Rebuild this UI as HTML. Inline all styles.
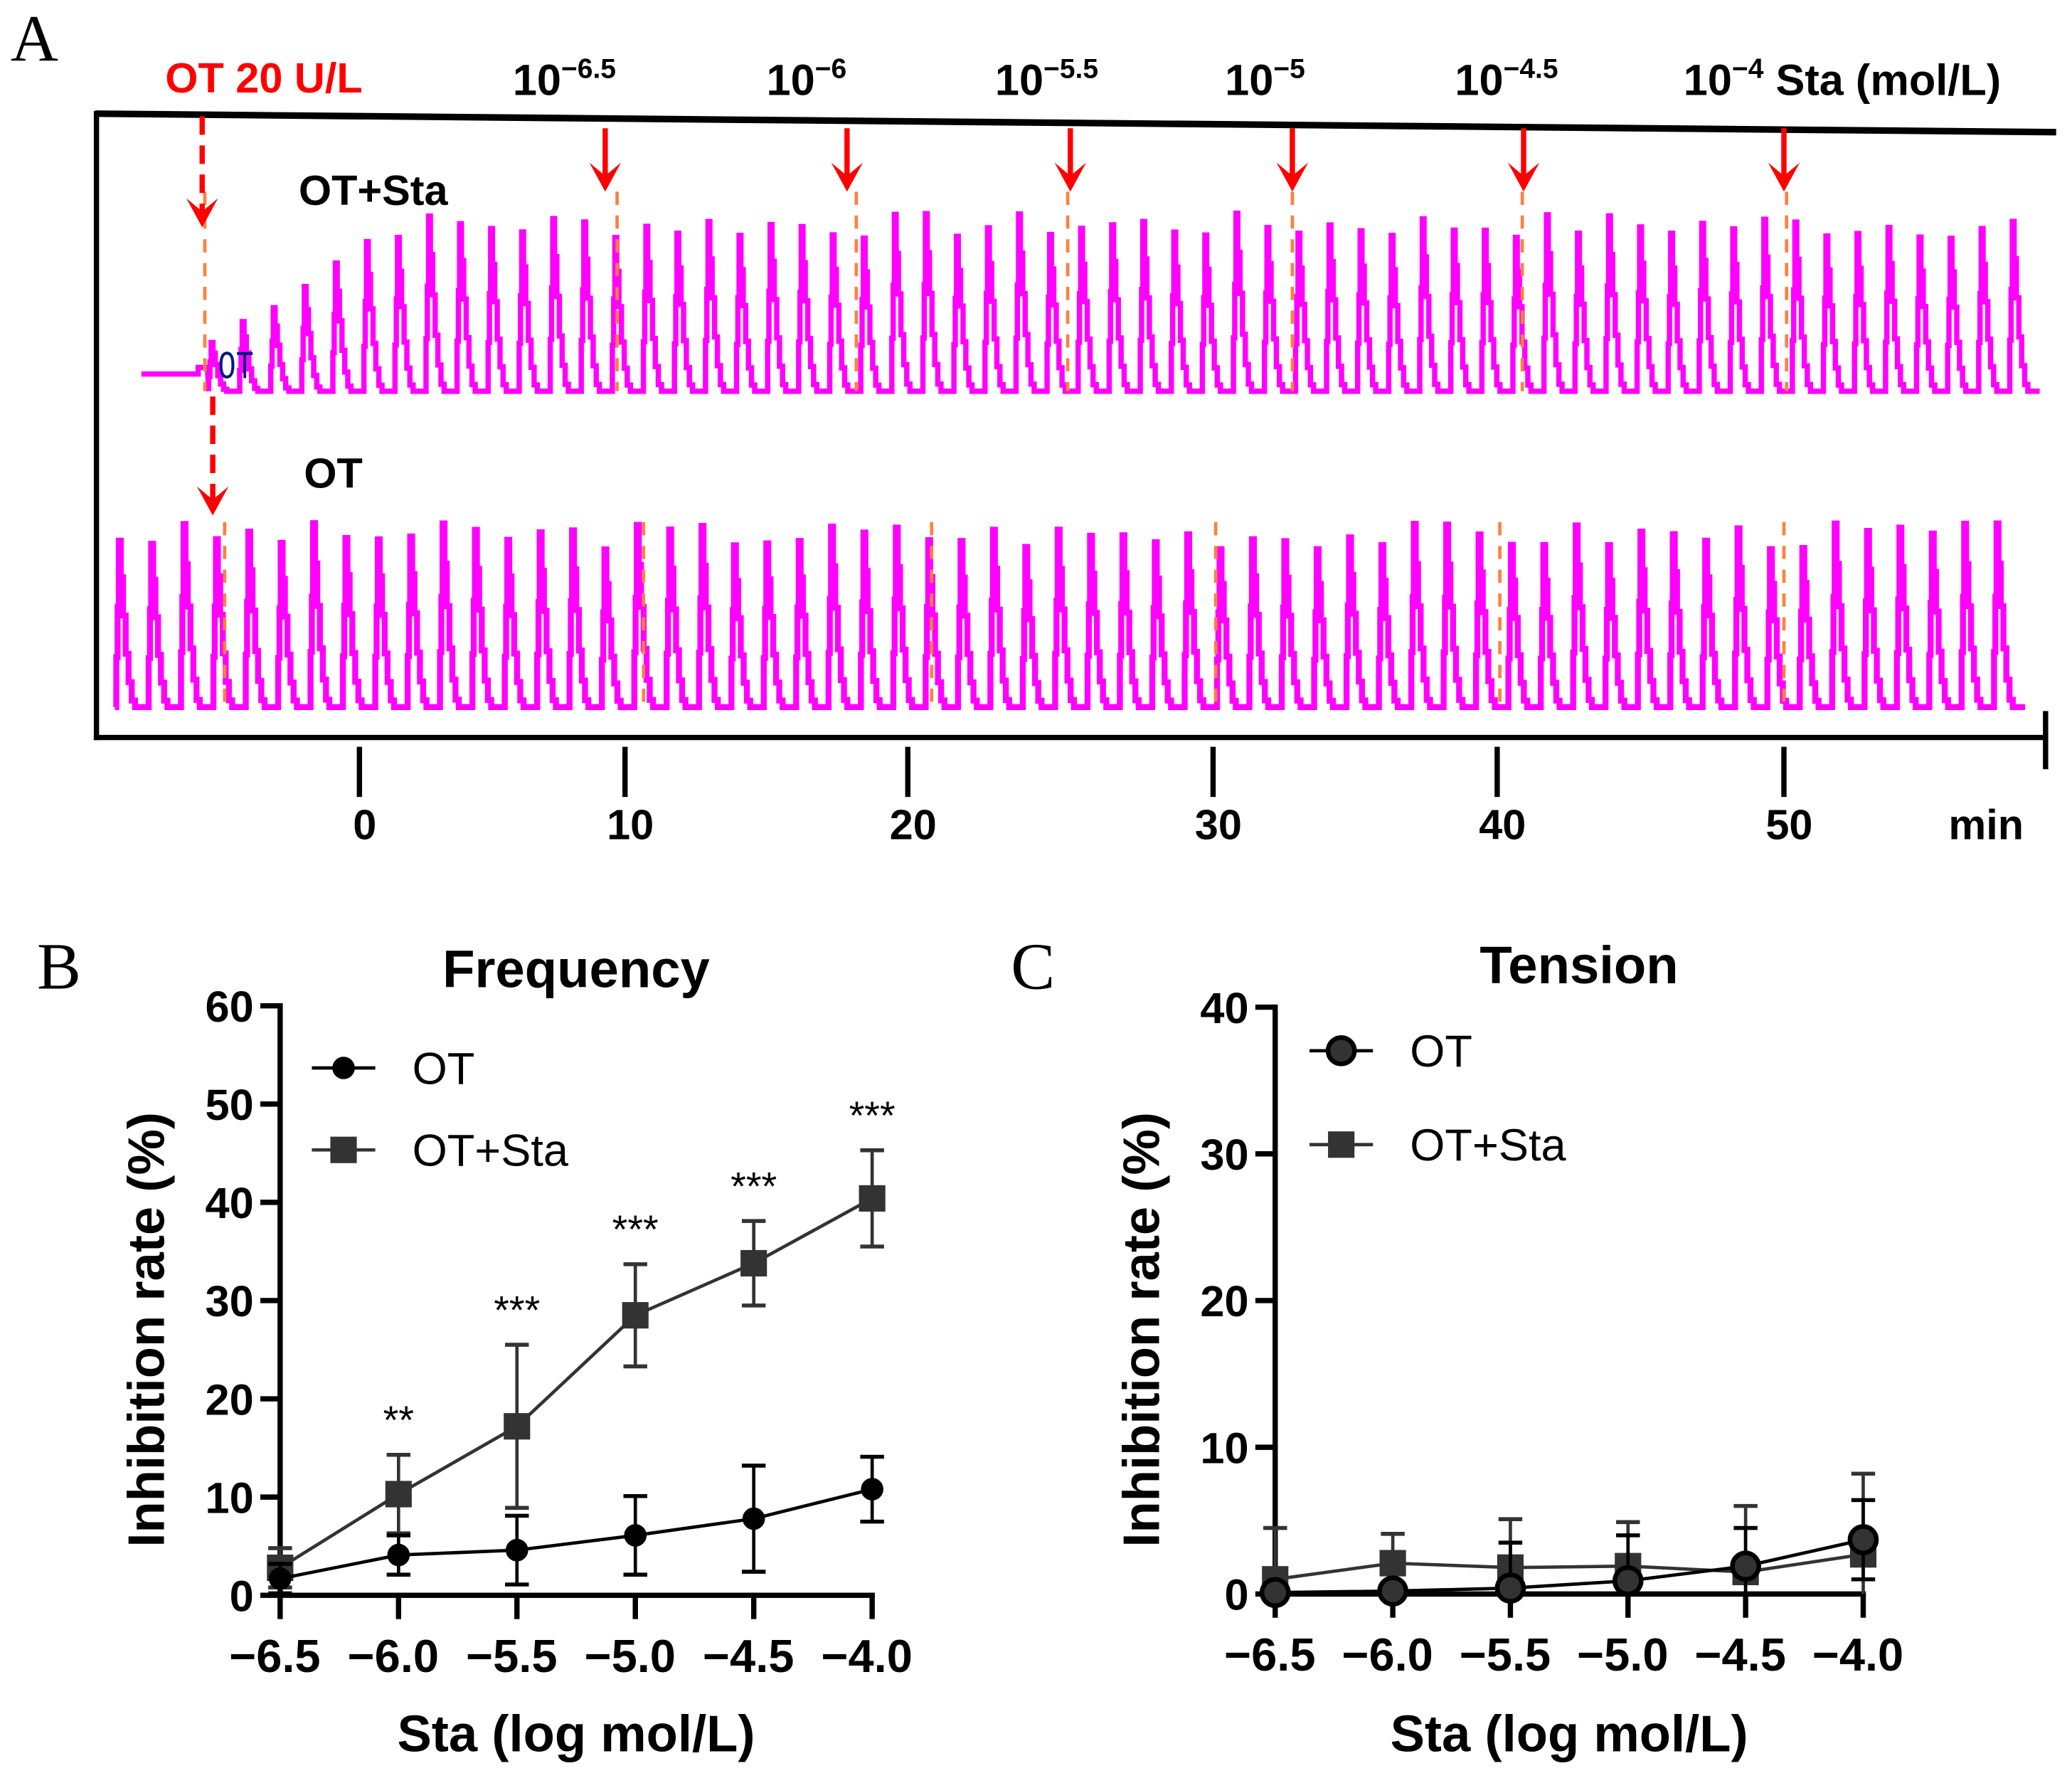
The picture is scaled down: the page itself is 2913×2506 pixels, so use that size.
<!DOCTYPE html>
<html><head><meta charset="utf-8">
<style>
html,body{margin:0;padding:0;background:#fff;}
svg{display:block;font-family:"Liberation Sans",Arial,sans-serif;}
.b{font-weight:bold;}
</style></head>
<body>
<svg id="fig" width="2913" height="2506" viewBox="0 0 1568 1349" preserveAspectRatio="none" xmlns="http://www.w3.org/2000/svg">
<g id="panelA">
  <text x="8" y="46" font-family="Liberation Serif,serif" font-size="50">A</text>
  <text x="125" y="70" class="b" font-size="32" fill="#f00">OT 20 U/L</text>
  <g class="b" font-size="33">
    <text x="388" y="72">10<tspan font-size="21" dy="-13">−6.5</tspan></text>
    <text x="580" y="72">10<tspan font-size="21" dy="-13">−6</tspan></text>
    <text x="753" y="72">10<tspan font-size="21" dy="-13">−5.5</tspan></text>
    <text x="927" y="72">10<tspan font-size="21" dy="-13">−5</tspan></text>
    <text x="1101" y="72">10<tspan font-size="21" dy="-13">−4.5</tspan></text>
    <text x="1274" y="72">10<tspan font-size="21" dy="-13">−4</tspan><tspan dy="13"> Sta (mol/L)</tspan></text>
  </g>
  <line x1="72" y1="86" x2="1556" y2="100" stroke="#000" stroke-width="5"/>
  <line x1="73" y1="84" x2="73" y2="560" stroke="#000" stroke-width="4"/>
  <line x1="71" y1="558" x2="1549" y2="558" stroke="#000" stroke-width="4"/>
  <line x1="1548" y1="538" x2="1548" y2="582" stroke="#000" stroke-width="4"/>
  <g id="timeTicks"></g>
  <g id="traces"></g>
  <g id="arrows"></g>
  <text x="226" y="155" class="b" font-size="32">OT+Sta</text>
  <text x="230" y="369" class="b" font-size="32">OT</text>
  <text x="165" y="286" font-family="Liberation Mono,monospace" font-size="30" fill="#001a80" transform="scale(0.75,1) translate(55,0)">OT</text>
</g>
<g id="chartB"></g>
<g id="chartC"></g>
</svg>
<script>
const NS="http://www.w3.org/2000/svg";
function mk(p,tag,at,txt){const e=document.createElementNS(NS,tag);for(const k in at)e.setAttribute(k,at[k]);if(txt!==undefined)e.textContent=txt;p.appendChild(e);return e;}

// Panel A time ticks
const timeLabels=["0","10","20","30","40","50"];
const timeTickX=[272,473,687,918,1133,1350];
const tt=document.getElementById('timeTicks');
timeLabels.forEach((l,i)=>{
  mk(tt,'line',{x1:timeTickX[i],y1:565,x2:timeTickX[i],y2:603,stroke:'#000','stroke-width':4});
  const t=mk(tt,'text',{x:timeTickX[i]+4,y:635,'text-anchor':'middle','font-size':32,'font-weight':'bold'},l);
  
  
});
mk(tt,'text',{x:1503,y:635,'text-anchor':'middle','font-size':32,'font-weight':'bold'},'min');

// traces (illustrative contraction recordings)
const tr=document.getElementById('traces');
function trace(x0,x1,base,period,ampFn,seed){
  let d=`M${x0} ${base}`;let s=seed;
  function rnd(){s=(s*9301+49297)%233280;return s/233280;}
  let x=x0;
  while(x<x1-period*0.4){
    const a=ampFn(x)*(0.85+0.15*rnd());
    const w=period;
    const pts=[[0.04,0],[0.04,0.3],[0.08,0.3],[0.08,0.6],[0.12,0.6],[0.12,1],[0.18,1],[0.18,0.78],[0.25,0.78],[0.25,0.55],[0.33,0.55],[0.33,0.32],[0.42,0.32],[0.42,0.15],[0.52,0.15],[0.52,0.04],[0.62,0.04],[0.62,0],[1,0]];
    pts.forEach(p=>{d+=` L${(x+w*p[0]).toFixed(1)} ${(base-a*p[1]).toFixed(1)}`;});
    x+=w;
  }
  return d;
}
const p1=mk(tr,'path',{d:'M107 283 L150 283 L150 278 L157 278 '+trace(157,1532,296,23.5,x=>Math.min(135,40+(x-157)*0.7),7).slice(9),fill:'none',stroke:'#ff00ff','stroke-width':4});


const p2=mk(tr,'path',{d:trace(87,1532,535,24.5,x=>140,3),fill:'none',stroke:'#ff00ff','stroke-width':4.5});


[155,467,648,808,978,1152,1352].forEach(x=>mk(tr,'line',{x1:x,y1:145,x2:x,y2:296,stroke:'#ff8040','stroke-width':2.5,'stroke-dasharray':'10 8'}));
[170,487,705,920,1135,1350].forEach(x=>mk(tr,'line',{x1:x,y1:395,x2:x,y2:532,stroke:'#ff8040','stroke-width':2.5,'stroke-dasharray':'10 8'}));

// arrows
const ar=document.getElementById('arrows');
function arrow(x,y1,y2,dashed){
  mk(ar,'line',{x1:x,y1:y1,x2:x,y2:y2-4,stroke:'#f00','stroke-width':4,'stroke-dasharray':dashed?'14 8':'none'});
  mk(ar,'path',{d:`M${x-12} ${y2-22} L${x} ${y2} L${x+12} ${y2-22} L${x} ${y2-12} Z`,fill:'#f00'});
}
arrow(153,88,172,true);arrow(161,300,390,true);
[458,641,810,978,1153,1350].forEach(x=>arrow(x,97,145,false));

// ===== Chart B data =====
const xCats=[-6.5,-6.0,-5.5,-5.0,-4.5,-4.0];
const xTickLabels=["−6.5","−6.0","−5.5","−5.0","−4.5","−4.0"];
const bOT=[1.7,4.1,4.6,6.1,7.8,10.8];
const bOTerr=[1.5,2.0,3.5,4.0,5.4,3.3];
const bSta=[2.8,10.3,17.2,28.5,33.8,40.4];
const bStaErr=[2.0,4.0,8.3,5.2,4.3,4.9];
const bStars=["","**","***","***","***","***"];
const bYTicks=[0,10,20,30,40,50,60];
// ===== Chart C data =====
const cOT=[0.1,0.2,0.4,0.9,1.9,3.7];
const cOTerr=[0.3,0.3,3.1,3.1,2.6,2.7];
const cSta=[1.0,2.1,1.8,1.9,1.5,2.7];
const cStaErr=[3.5,2.0,3.3,3.0,4.5,5.5];
const cYTicks=[0,10,20,30,40];

function chart(gid,cfg){
  const g=document.getElementById(gid);
  const X=v=>cfg.x0+(v-(-6.5))/2.5*(cfg.x1-cfg.x0);
  const Y=v=>cfg.y0-(Math.max(0,v)/cfg.ymax)*(cfg.y0-cfg.yTop);
  mk(g,'text',{x:cfg.letterX,y:748,'font-family':'Liberation Serif,serif','font-size':50},cfg.letter);
  const ti=mk(g,'text',{x:cfg.titleX,y:cfg.titleY,'text-anchor':'middle','font-size':40,'font-weight':'bold'},cfg.title);
  
  
  const yt=mk(g,'text',{x:0,y:0,'text-anchor':'middle','font-size':39,'font-weight':'bold',transform:`translate(${cfg.x0-88},${(cfg.y0+cfg.yTop)/2+22}) rotate(-90)`},'Inhibition rate (%)');
  
  
  const xt=mk(g,'text',{x:(cfg.x0+cfg.x1)/2,y:1325,'text-anchor':'middle','font-size':39,'font-weight':'bold'},'Sta (log mol/L)');
  
  
  // axes
  mk(g,'line',{x1:cfg.x0,y1:cfg.yTop-2,x2:cfg.x0,y2:cfg.y0+2,stroke:'#000','stroke-width':4});
  mk(g,'line',{x1:cfg.x0-2,y1:cfg.y0,x2:cfg.x1+2,y2:cfg.y0,stroke:'#000','stroke-width':4});
  cfg.yTicks.forEach(v=>{
    mk(g,'line',{x1:cfg.x0-15,y1:Y(v),x2:cfg.x0,y2:Y(v),stroke:'#000','stroke-width':4});
    const t=mk(g,'text',{x:cfg.x0-20,y:Y(v)+12,'text-anchor':'end','font-size':33,'font-weight':'bold'},String(v));
    
    
  });
  xCats.forEach((c,i)=>{
    mk(g,'line',{x1:X(c),y1:cfg.y0,x2:X(c),y2:cfg.y0+18,stroke:'#000','stroke-width':4});
    const t=mk(g,'text',{x:X(c)-4,y:cfg.y0+58,'text-anchor':'middle','font-size':35,'font-weight':'bold'},xTickLabels[i]);
    
    
  });
  function series(vals,errs,shape,name,col){
    const sg=mk(g,'g',{});
    
    
    vals.forEach((v,i)=>{
      const x=X(xCats[i]);
      mk(sg,'line',{x1:x,y1:Y(v-errs[i]),x2:x,y2:Y(v+errs[i]),stroke:col,'stroke-width':2.5});
      mk(sg,'line',{x1:x-9,y1:Y(v+errs[i]),x2:x+9,y2:Y(v+errs[i]),stroke:col,'stroke-width':3});
      if(v-errs[i]>0) mk(sg,'line',{x1:x-9,y1:Y(v-errs[i]),x2:x+9,y2:Y(v-errs[i]),stroke:col,'stroke-width':3});
    });
    mk(sg,'polyline',{points:vals.map((v,i)=>X(xCats[i])+','+Y(v)).join(' '),fill:'none',stroke:col,'stroke-width':2.5});
    vals.forEach((v,i)=>{
      const x=X(xCats[i]),y=Y(v);
      let m;
      if(shape==='sq') m=mk(sg,'rect',{x:x-10,y:y-10,width:20,height:20,fill:'#333'});
      else m=mk(sg,'circle',{cx:x,cy:y,r:cfg.circR,fill:cfg.circFill,stroke:'#000','stroke-width':cfg.circStroke});
      
      
    });
  }
  series(cfg.sta,cfg.staErr,'sq','series-ot-sta','#333');
  series(cfg.ot,cfg.otErr,'ci','series-ot','#000');
  if(cfg.stars) cfg.stars.forEach((s,i)=>{
    if(!s)return;
    const t=mk(g,'text',{x:X(xCats[i]),y:Y(cfg.sta[i]+cfg.staErr[i])-16,'text-anchor':'middle','font-size':30},s);
    
    
  });
  // legend
  const lg=mk(g,'g',{});
  
  
  const lx=cfg.legX;
  mk(lg,'line',{x1:lx-24,y1:cfg.legY1,x2:lx+24,y2:cfg.legY1,stroke:'#000','stroke-width':2.5});
  mk(lg,'circle',{cx:lx,cy:cfg.legY1,r:cfg.circR,fill:cfg.circFill,stroke:'#000','stroke-width':cfg.circStroke});
  mk(lg,'text',{x:lx+52,y:cfg.legY1+12,'font-size':34},'OT');
  mk(lg,'line',{x1:lx-24,y1:cfg.legY2,x2:lx+24,y2:cfg.legY2,stroke:'#333','stroke-width':2.5});
  mk(lg,'rect',{x:lx-10,y:cfg.legY2-10,width:20,height:20,fill:'#333'});
  mk(lg,'text',{x:lx+52,y:cfg.legY2+12,'font-size':34},'OT+Sta');
}
chart('chartB',{x0:212,x1:660,y0:1207,yTop:761,ymax:60,yTicks:bYTicks,ot:bOT,otErr:bOTerr,sta:bSta,staErr:bStaErr,stars:bStars,
  title:'Frequency',titleX:436,titleY:747,letter:'B',letterX:28,legX:260,legY1:808,legY2:870,circR:8,circFill:'#000',circStroke:1});
chart('chartC',{x0:965,x1:1410,y0:1206,yTop:762,ymax:40,yTicks:cYTicks,ot:cOT,otErr:cOTerr,sta:cSta,staErr:cStaErr,stars:null,
  title:'Tension',titleX:1195,titleY:744,letter:'C',letterX:765,legX:1015,legY1:795,legY2:866,circR:10,circFill:'#333',circStroke:3.5});
</script>
</body></html>
